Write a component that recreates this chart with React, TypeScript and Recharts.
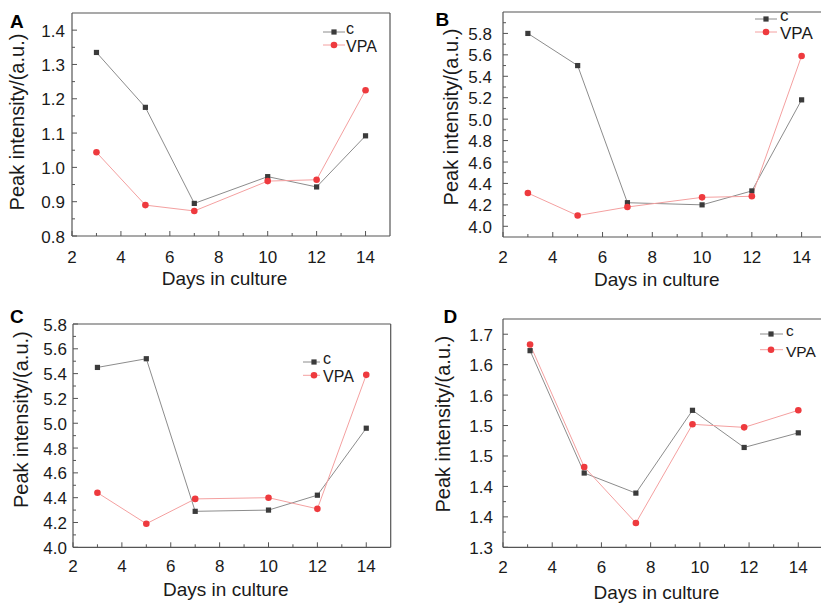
import { LineChart, Line, XAxis, YAxis, ReferenceLine, Legend, Label } from "recharts";

// ---- data ----
const DAYS = [3, 5, 7, 10, 12, 14];
const D_DAYS = [3.1, 5.3, 7.4, 9.7, 11.8, 14];

const A_C = [1.335, 1.175, 0.895, 0.973, 0.943, 1.092];
const A_VPA = [1.044, 0.89, 0.873, 0.96, 0.964, 1.225];

const B_C = [5.8, 5.5, 4.22, 4.2, 4.33, 5.18];
const B_VPA = [4.31, 4.1, 4.18, 4.27, 4.28, 5.59];

const C_C = [5.45, 5.52, 4.29, 4.3, 4.42, 4.96];
const C_VPA = [4.44, 4.19, 4.39, 4.4, 4.31, 5.39];

const D_C = [1.623, 1.422, 1.389, 1.525, 1.464, 1.488];
const D_VPA = [1.633, 1.432, 1.34, 1.502, 1.497, 1.525];

const X_LABELS = [2, 4, 6, 8, 10, 12, 14];
const X_TICKS = [2, 3, 4, 5, 6, 7, 8, 9, 10, 11, 12, 13, 14];

const A_Y = [0.8, 0.9, 1.0, 1.1, 1.2, 1.3, 1.4];
const B_Y = [4.0, 4.2, 4.4, 4.6, 4.8, 5.0, 5.2, 5.4, 5.6, 5.8];
const C_Y = [4.0, 4.2, 4.4, 4.6, 4.8, 5.0, 5.2, 5.4, 5.6, 5.8];
const D_Y = [1.3, 1.35, 1.4, 1.45, 1.5, 1.55, 1.6, 1.65];
const D_Y_LABELS = ["1.3", "1.4", "1.4", "1.5", "1.5", "1.6", "1.6", "1.7"];

// ---- styles ----
const FONT = '"Liberation Sans", Arial, sans-serif';
const AXIS = "#555";
const TEXT = "#1a1a1a";
const C_LINE = "#8c8c8c";
const C_DOT = "#3b3b3b";
const VPA_LINE = "#f4a0a0";
const VPA_DOT = "#ee3a3e";

const SERIES = [
  { key: "c", name: "c", line: C_LINE, fill: C_DOT, square: true, textDy: -3.5 },
  { key: "vpa", name: "VPA", line: VPA_LINE, fill: VPA_DOT, square: false, textDy: 1.5 },
];

const Square = (p: any) =>
  p.cx == null ? <g key={p.index} /> : (
    <rect key={p.index} x={p.cx - 2.6} y={p.cy - 2.6} width={5.2} height={5.2} fill={C_DOT} />
  );
const Dot = (p: any) =>
  p.cx == null ? <g key={p.index} /> : <circle key={p.index} cx={p.cx} cy={p.cy} r={3.3} fill={VPA_DOT} />;

const withMinor = (majors: number[], hi: number) => {
  const out: number[] = [];
  majors.forEach((m, i) => {
    out.push(m);
    const step = i < majors.length - 1 ? majors[i + 1] - m : m - majors[i - 1];
    const mid = m + step / 2;
    if (mid < hi - 1e-9) out.push(mid);
  });
  return out;
};

const makeXTick = (dy: number) => (p: any) => {
  const v = p.payload.value;
  const major = X_LABELS.includes(v);
  return (
    <g>
      <line x1={p.x} x2={p.x} y1={p.y} y2={p.y - (major ? 5 : 3)} stroke={AXIS} />
      {major && (
        <text x={p.x} y={p.y + dy} textAnchor="middle" dominantBaseline="central" fontSize={17} fill={TEXT} fontFamily={FONT}>
          {v}
        </text>
      )}
    </g>
  );
};

const makeYTick = (majors: number[], labels: string[], gap: number) => (p: any) => {
  const v = p.payload.value;
  const i = majors.findIndex((m) => Math.abs(m - v) < 1e-6);
  return (
    <g>
      <line x1={p.x} x2={p.x + (i >= 0 ? 5 : 3)} y1={p.y} y2={p.y} stroke={AXIS} />
      {i >= 0 && (
        <text x={p.x - gap} y={p.y + 1} textAnchor="end" dominantBaseline="central" fontSize={17} fill={TEXT} fontFamily={FONT}>
          {labels[i]}
        </text>
      )}
    </g>
  );
};

const xTitle = (dx: number) => (props: any) => {
  const vb = props.viewBox;
  return (
    <text x={vb.x + vb.width / 2 + dx} y={vb.y + vb.height} textAnchor="middle" fontSize={19} fill={TEXT} fontFamily={FONT}>
      Days in culture
    </text>
  );
};

const yTitle = (cx: number, dy: number) => (props: any) => {
  const vb = props.viewBox;
  const cy = vb.y + vb.height / 2 + dy;
  return (
    <text
      transform={`translate(${vb.x + cx},${cy}) rotate(-90)`}
      textAnchor="middle"
      dominantBaseline="central"
      fontSize={20}
      fill={TEXT}
      fontFamily={FONT}
    >
      Peak intensity/(a.u.)
    </text>
  );
};

const LegendBox = ({ gap, font, lineLen, textX }: any) => (
  <svg width={90} height={gap + 18} style={{ display: "block", overflow: "visible" }}>
    {SERIES.map((s, i) => {
      const y = 7 + i * gap;
      return (
        <g key={s.key}>
          <line x1={0} x2={lineLen} y1={y} y2={y} stroke={s.line} />
          {s.square ? (
            <rect x={11 - 2.6} y={y - 2.6} width={5.2} height={5.2} fill={s.fill} />
          ) : (
            <circle cx={11} cy={y} r={3.3} fill={s.fill} />
          )}
          <text x={textX} y={y + s.textDy} dominantBaseline="central" fontSize={font} fill={TEXT} fontFamily={FONT}>
            {s.name}
          </text>
        </g>
      );
    })}
  </svg>
);

// legend left/top and letter positions are relative to each panel
const PANELS = [
  {
    letter: "A", left: 0, top: 0, width: 410, height: 300,
    margin: { top: 13, right: 20, bottom: 15, left: 0 }, yw: 72, xh: 49,
    days: DAYS, c: A_C, vpa: A_VPA, yDomain: [0.8, 1.45], yMajors: A_Y,
    yLabels: A_Y.map((v) => v.toFixed(1)), yGap: 7, xTickDy: 21.5,
    xTitleDx: -6.5, yTitleX: 17, yTitleDy: -2.5,
    legend: { left: 323, top: 25.3, gap: 13, font: 16, lineLen: 22, textX: 23 },
    letterPos: { left: 10, top: 11.5 },
  },
  {
    letter: "B", left: 410, top: 0, width: 420, height: 300,
    margin: { top: 12, right: 3.5, bottom: 14.4, left: 0 }, yw: 93, xh: 48.6,
    days: DAYS, c: B_C, vpa: B_VPA, yDomain: [3.9, 6.0], yMajors: B_Y,
    yLabels: B_Y.map((v) => v.toFixed(1)), yGap: 11, xTickDy: 20,
    xTitleDx: -8, yTitleX: 41, yTitleDy: -7.5,
    legend: { left: 345, top: 12, gap: 13, font: 17, lineLen: 22, textX: 25 },
    letterPos: { left: 25.5, top: 10 },
  },
  {
    letter: "C", left: 0, top: 300, width: 410, height: 303,
    margin: { top: 24, right: 19.3, bottom: 6.7, left: 0 }, yw: 73, xh: 49,
    days: DAYS, c: C_C, vpa: C_VPA, yDomain: [4.0, 5.8], yMajors: C_Y,
    yLabels: C_Y.map((v) => v.toFixed(1)), yGap: 6, xTickDy: 19.5,
    xTitleDx: -6, yTitleX: 21, yTitleDy: -16,
    legend: { left: 303, top: 55, gap: 13.3, font: 16, lineLen: 17, textX: 20 },
    letterPos: { left: 10, top: 7 },
  },
  {
    letter: "D", left: 410, top: 300, width: 420, height: 303,
    margin: { top: 19, right: 7.1, bottom: 4.4, left: 0 }, yw: 93, xh: 51.3,
    days: D_DAYS, c: D_C, vpa: D_VPA, yDomain: [1.3, 1.675], yMajors: D_Y,
    yLabels: D_Y_LABELS, yGap: 10, xTickDy: 20,
    xTitleDx: -6.5, yTitleX: 32.5, yTitleDy: -9,
    legend: { left: 350, top: 27.3, gap: 15.7, font: 15.5, lineLen: 23, textX: 26 },
    letterPos: { left: 33.5, top: 7 },
  },
];

const Panel = ({ p }: { p: (typeof PANELS)[number] }) => {
  const rows = p.days.map((d, i) => ({ day: d, c: p.c[i], vpa: p.vpa[i] }));
  const [lo, hi] = p.yDomain;
  return (
    <div style={{ position: "absolute", left: p.left, top: p.top, width: p.width, height: p.height }}>
      <LineChart width={p.width} height={p.height} data={rows} margin={p.margin}>
        <XAxis
          dataKey="day" type="number" domain={[2, 15]} allowDataOverflow ticks={X_TICKS} interval={0}
          height={p.xh} tickSize={0} tickMargin={0} tickLine={false}
          axisLine={{ stroke: AXIS, strokeWidth: 1.2 }} tick={makeXTick(p.xTickDy)}
        >
          <Label content={xTitle(p.xTitleDx)} />
        </XAxis>
        <YAxis
          type="number" domain={[lo, hi]} allowDataOverflow ticks={withMinor(p.yMajors, hi)} interval={0}
          width={p.yw} tickSize={0} tickMargin={0} tickLine={false}
          axisLine={{ stroke: AXIS, strokeWidth: 1.2 }} tick={makeYTick(p.yMajors, p.yLabels, p.yGap)}
        >
          <Label content={yTitle(p.yTitleX, p.yTitleDy)} />
        </YAxis>
        <ReferenceLine y={hi} stroke={AXIS} strokeWidth={1.2} />
        <ReferenceLine x={15} stroke={AXIS} strokeWidth={1.2} />
        <Line dataKey="c" name="c" stroke={C_LINE} strokeWidth={1} dot={Square} activeDot={false} isAnimationActive={false} />
        <Line dataKey="vpa" name="VPA" stroke={VPA_LINE} strokeWidth={1} dot={Dot} activeDot={false} isAnimationActive={false} />
        <Legend
          layout="horizontal" verticalAlign="middle" align="center"
          wrapperStyle={{ left: p.legend.left, top: p.legend.top, width: 90 }}
          content={<LegendBox {...p.legend} />}
        />
      </LineChart>
      <div
        style={{
          position: "absolute", left: p.letterPos.left, top: p.letterPos.top,
          fontSize: 19, fontWeight: "bold", lineHeight: 1, fontFamily: FONT, color: "#000",
        }}
      >
        {p.letter}
      </div>
    </div>
  );
};

export default function App() {
  return (
    <div
      style={{
        position: "absolute", left: 0, top: 0, width: 821, height: 603,
        overflow: "hidden", background: "#fff", fontFamily: FONT,
      }}
    >
      {PANELS.map((p) => (
        <Panel key={p.letter} p={p} />
      ))}
    </div>
  );
}
